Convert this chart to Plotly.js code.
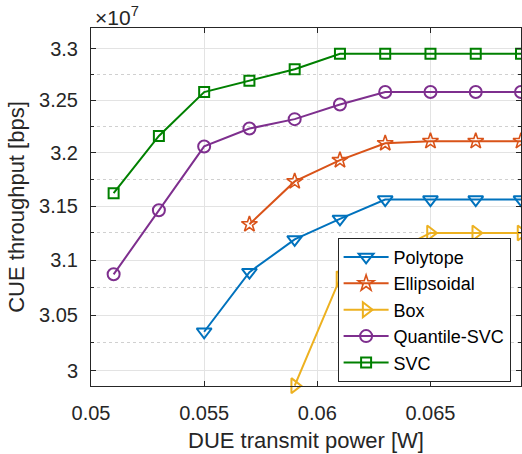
<!DOCTYPE html>
<html>
<head>
<meta charset="utf-8">
<script src="https://cdn.plot.ly/plotly-3.0.1.min.js"></script>
<style>
html,body{margin:0;padding:0;overflow:hidden;background:#fff;}
#chart{width:522px;height:454px;}
</style>
</head>
<body>
<div id="chart"></div>
<script>
// DUE transmit power [W]
const powerAll = [0.051, 0.053, 0.055, 0.057, 0.059, 0.061, 0.063, 0.065, 0.067, 0.069];
const powerPolytope = [0.055, 0.057, 0.059, 0.061, 0.063, 0.065, 0.067, 0.069];
const powerEllipsoidal = [0.057, 0.059, 0.061, 0.063, 0.065, 0.067, 0.069];
const powerBox = [0.059, 0.061, 0.063, 0.065, 0.067, 0.069];

// CUE throughput, in units of 1e7 bps
const polytope = [3.035, 3.089, 3.119, 3.138, 3.156, 3.156, 3.156, 3.156];
const ellipsoidal = [3.133, 3.173, 3.193, 3.209, 3.211, 3.211, 3.211];
const box = [2.987, 3.083, 3.104, 3.125, 3.125, 3.125];
const quantileSVC = [3.087, 3.146, 3.206, 3.223, 3.232, 3.246, 3.258, 3.258, 3.258, 3.258];
const svc = [3.162, 3.216, 3.258, 3.269, 3.280, 3.295, 3.295, 3.295, 3.295, 3.295];

const xTicks = [0.05, 0.055, 0.06, 0.065];
const xTickText = ['0.05', '0.055', '0.06', '0.065'];
const yTicks = [3, 3.05, 3.1, 3.15, 3.2, 3.25, 3.3];
const yTickText = ['3', '3.05', '3.1', '3.15', '3.2', '3.25', '3.3'];
const yMinor = [3.025, 3.075, 3.125, 3.175, 3.225, 3.275];

const FONT = 'Liberation Sans, Arial, Helvetica, sans-serif';
const AX = '#262626';

function tr(name, x, y, color, symbol, size, lw) {
  return {
    type: 'scatter', mode: 'lines+markers', name: name, x: x, y: y,
    line: {color: color, width: 2},
    marker: {symbol: symbol, size: size, color: color, line: {color: color, width: lw}},
    cliponaxis: false
  };
}

const data = [
  tr('Polytope', powerPolytope, polytope, '#0072BD', 'triangle-down-open', 13, 2),
  tr('Ellipsoidal', powerEllipsoidal, ellipsoidal, '#D95319', 'star-open', 12, 1.6),
  tr('Box', powerBox, box, '#EDB120', 'triangle-right-open', 13, 2),
  tr('Quantile-SVC', powerAll, quantileSVC, '#7E2F8E', 'circle-open', 12, 2),
  tr('SVC', powerAll, svc, '#008000', 'square-open', 10, 2)
];

const layout = {
  width: 522, height: 454,
  margin: {l: 91, r: 0.5, t: 27.5, b: 68},
  paper_bgcolor: '#fff', plot_bgcolor: '#fff',
  font: {family: FONT, color: AX, size: 18},
  showlegend: true,
  title: {
    text: '×10<sup>7</sup>',
    font: {size: 21, color: AX, family: FONT},
    xref: 'paper', x: 0, xanchor: 'left',
    yref: 'container', y: 1 - 24.5 / 454, yanchor: 'bottom',
    pad: {l: 4}
  },
  xaxis: {
    range: [0.05, 0.069],
    tickvals: xTicks, ticktext: xTickText,
    ticks: 'inside', ticklen: 5, tickwidth: 1, tickcolor: AX,
    showline: true, linecolor: AX, linewidth: 1, mirror: 'ticks',
    showgrid: true, gridcolor: '#e3e3e3', gridwidth: 1,
    zeroline: false,
    tickfont: {size: 20, color: AX, family: FONT},
    ticklabelstandoff: 9,
    title: {text: 'DUE transmit power [W]', font: {size: 22, color: AX, family: FONT}, standoff: 9}
  },
  yaxis: {
    type: 'log',
    range: [Math.log10(2.9867), Math.log10(3.3203)],
    tickvals: yTicks, ticktext: yTickText,
    ticks: 'inside', ticklen: 5, tickwidth: 1, tickcolor: AX,
    showline: true, linecolor: AX, linewidth: 1, mirror: 'ticks',
    showgrid: true, gridcolor: '#e3e3e3', gridwidth: 1,
    zeroline: false,
    minor: {tickmode: 'array', tickvals: yMinor, ticks: 'inside', ticklen: 3, tickcolor: AX,
            showgrid: true, gridcolor: '#d0d0d0', griddash: 'dot', gridwidth: 1},
    tickfont: {size: 20, color: AX, family: FONT},
    ticklabelstandoff: 8,
    title: {text: 'CUE throughput [bps]', font: {size: 22, color: AX, family: FONT}, standoff: 8}
  },
  legend: {
    x: 0.5735, y: 0.012, xanchor: 'left', yanchor: 'bottom',
    bgcolor: '#fff', bordercolor: AX, borderwidth: 1,
    font: {size: 18, color: '#000', family: FONT},
    itemwidth: 45, tracegroupgap: 0
  }
};

Plotly.newPlot('chart', data, layout, {staticPlot: true, displayModeBar: false});
</script>
</body>
</html>
